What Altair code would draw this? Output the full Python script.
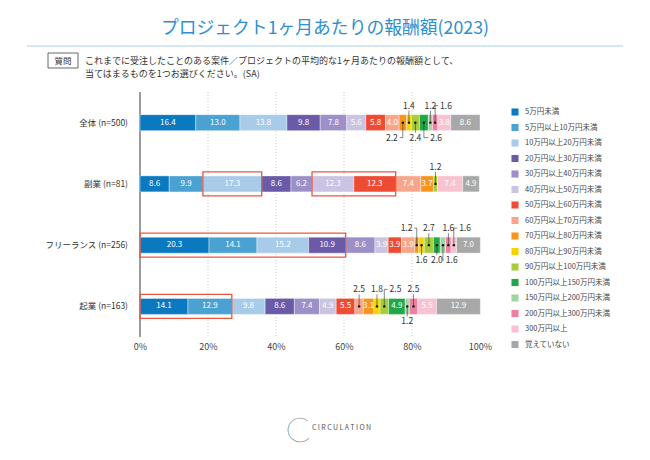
import altair as alt
import pandas as pd

FONT = "Noto Sans CJK JP"

categories = ["5万円未満", "5万円以上10万円未満", "10万円以上20万円未満", "20万円以上30万円未満",
              "30万円以上40万円未満", "40万円以上50万円未満", "50万円以上60万円未満", "60万円以上70万円未満",
              "70万円以上80万円未満", "80万円以上90万円未満", "90万円以上100万円未満", "100万円以上150万円未満",
              "150万円以上200万円未満", "200万円以上300万円未満", "300万円以上", "覚えていない"]
colors = ["#0b79bf", "#4aa2d3", "#a7cbe8", "#6a5aa8", "#9d8fc7", "#cac4e2", "#ee4b33", "#f7a68b",
          "#f7941d", "#f6d200", "#a8cd3a", "#22a748", "#a0d4a0", "#ef7fa1", "#f9c2d1", "#a8a8a8"]

groups = ["全体 (n=500)", "副業 (n=81)", "フリーランス (n=256)", "起業 (n=163)"]
values_all = [16.4, 13.0, 13.8, 9.8, 7.8, 5.6, 5.8, 4.0, 2.2, 1.4, 2.4, 2.6, 1.2, 1.6, 3.8, 8.6]
values_side = [8.6, 9.9, 17.3, 8.6, 6.2, 12.3, 12.3, 7.4, 3.7, 0.0, 1.2, 0.0, 0.0, 0.0, 7.4, 4.9]
values_free = [20.3, 14.1, 15.2, 10.9, 8.6, 3.9, 3.9, 3.9, 1.2, 1.6, 2.7, 2.0, 1.6, 1.6, 1.6, 7.0]
values_start = [14.1, 12.9, 9.8, 8.6, 7.4, 4.9, 5.5, 2.5, 3.1, 1.8, 2.5, 4.9, 1.2, 2.5, 5.5, 12.9]
group_values = [values_all, values_side, values_free, values_start]

x_ticks = [0, 20, 40, 60, 80, 100]
grid_ticks = [20, 40, 60, 80]

# outside labels for small segments: (group, category index, direction, x shift in %)
small_labels = [
    (0, 8, "down", -3.2), (0, 9, "up", 0), (0, 10, "down", 0), (0, 11, "down", 3.6),
    (0, 12, "up", 0), (0, 13, "up", 3.2),
    (1, 10, "up", 0),
    (2, 8, "up", -3.0), (2, 9, "down", 0), (2, 10, "up", 0), (2, 11, "down", 0),
    (2, 12, "down", 2.6), (2, 13, "up", 0), (2, 14, "up", 3.3),
    (3, 7, "up", 0), (3, 9, "up", 0), (3, 10, "up", 3.3), (3, 12, "down", 0), (3, 13, "up", 0),
]
# highlighted ranges: (group, first category, last category)
highlights = [(1, 2, 2), (1, 5, 6), (2, 0, 3), (3, 0, 1)]

title_text = "プロジェクト1ヶ月あたりの報酬額(2023)"
question_lines = ["これまでに受注したことのある案件／プロジェクトの平均的な1ヶ月あたりの報酬額として、",
                  "当てはまるものを1つお選びください。(SA)"]

W, H = 340, 245
PXX = W / 100.0
PXY = H / 4.0
HB = 8.0 / PXY
HBOX = 12.0 / PXY

seg_rows, starts = [], {}
for gi, vals in enumerate(group_values):
    cum = 0.0
    yc = gi + 0.5
    for ci, v in enumerate(vals):
        starts[(gi, ci)] = (cum, cum + v)
        if v > 0:
            seg_rows.append(dict(group=groups[gi], cat=categories[ci], order=ci, value=v,
                                 x0=cum, x1=cum + v, mid=cum + v / 2, yc=yc,
                                 y0=yc - HB, y1=yc + HB,
                                 label=(f"{v:.1f}" if v >= 3 else "")))
        cum += v
seg = pd.DataFrame(seg_rows)
inside = seg[seg["label"] != ""]

lead_rows, lab_rows, dot_rows = [], [], []
for gi, ci, d, dx in small_labels:
    a, b = starts[(gi, ci)]
    m = (a + b) / 2
    yc = gi + 0.5
    sgn = -1 if d == "up" else 1
    ly = yc + sgn * (17 if d == "up" else 15) / PXY
    lx = m + dx
    dot_rows.append(dict(mid=m, yc=yc))
    lab_rows.append(dict(lx=lx, ly=ly, label=f"{group_values[gi][ci]:.1f}"))
    if dx == 0:
        lead_rows.append(dict(a=m, b=m, c=yc, d=yc + sgn * (12 if d == "up" else 10) / PXY))
    else:
        lead_rows.append(dict(a=m, b=m, c=yc, d=ly))
        edge = lx - (2.3 if dx > 0 else -2.3)
        lead_rows.append(dict(a=m, b=edge, c=ly, d=ly))
leads = pd.DataFrame(lead_rows)
labs = pd.DataFrame(lab_rows)
dots = pd.DataFrame(dot_rows)

box_rows = []
for gi, c0, c1 in highlights:
    box_rows.append(dict(bx0=starts[(gi, c0)][0], bx1=starts[(gi, c1)][1],
                         by0=gi + 0.5 - HBOX, by1=gi + 0.5 + HBOX))
boxes = pd.DataFrame(box_rows)

rowlab = pd.DataFrame(dict(group=groups, yc=[i + 0.5 for i in range(len(groups))]))
griddf = pd.DataFrame(dict(g=grid_ticks))
one = pd.DataFrame(dict(k=[0]))

xs = alt.Scale(domain=[0, 100], nice=False, zero=False)
ys = alt.Scale(domain=[0, 4], reverse=True, nice=False, zero=False)
xaxis = alt.Axis(values=x_ticks, labelExpr="datum.value + '%'", domain=False, ticks=False,
                 grid=False, labelPadding=5, labelFontSize=9, labelColor="#444",
                 labelFont=FONT, title=None, labelFlush=False)


def X(f):
    return alt.X(f, type="quantitative", scale=xs, axis=xaxis)


def Y(f):
    return alt.Y(f, type="quantitative", scale=ys, axis=None)


grid = alt.Chart(griddf).mark_rule(color="#bdbdbd", strokeDash=[1, 2], strokeWidth=0.8).encode(
    x=X("g"), y=alt.value(0), y2=alt.value(H))

axisline = alt.Chart(one).mark_rule(color="#7a7a7a", strokeWidth=1.5).encode(
    x=alt.value(0), y=alt.value(0), y2=alt.value(H))

bars = alt.Chart(seg).mark_bar(stroke="white", strokeWidth=0.4).encode(
    x=X("x0"), x2="x1", y=Y("y0"), y2="y1",
    color=alt.Color("cat:N", sort=categories,
                    scale=alt.Scale(domain=categories, range=colors),
                    legend=alt.Legend(title=None, orient="none", legendX=371, legendY=16,
                                      symbolType="square", symbolSize=50, symbolStrokeWidth=0,
                                      labelFontSize=7.5, labelColor="#444", labelFont=FONT,
                                      rowPadding=7.5, labelOffset=6, labelLimit=220,
                                      direction="vertical")),
    order=alt.Order("order:Q"))

intext = alt.Chart(inside).mark_text(color="white", fontSize=8, font=FONT).encode(
    x=X("mid"), y=Y("yc"), text="label:N")

boxl = alt.Chart(boxes).mark_rect(filled=False, stroke="#e9573f", strokeWidth=1.3).encode(
    x=X("bx0"), x2="bx1", y=Y("by0"), y2="by1")

leadl = alt.Chart(leads).mark_rule(color="#333", strokeWidth=0.6).encode(
    x=X("a"), x2="b", y=Y("c"), y2="d")

dotl = alt.Chart(dots).mark_circle(size=6, color="#111", opacity=1).encode(
    x=X("mid"), y=Y("yc"))

labl = alt.Chart(labs).mark_text(fontSize=8.5, color="#333", font=FONT).encode(
    x=X("lx"), y=Y("ly"), text="label:N")

rowl = alt.Chart(rowlab).mark_text(align="right", fontSize=8.5, color="#333", font=FONT).encode(
    x=alt.value(-12), y=Y("yc"), text="group:N")

titlel = alt.Chart(pd.DataFrame(dict(t=[title_text]))).mark_text(
    fontSize=17.8, color="#2d8fd0", font=FONT, align="center", baseline="middle").encode(
    x=alt.value(185), y=alt.value(-63), text="t:N")

hline = alt.Chart(one).mark_rule(color="#d3e8f4", strokeWidth=2).encode(
    x=alt.value(-113), x2=alt.value(483), y=alt.value(-46))

qbox = alt.Chart(one).mark_rect(filled=False, stroke="#666", strokeWidth=1).encode(
    x=alt.value(-92), x2=alt.value(-62), y=alt.value(-39), y2=alt.value(-24))

qlab = alt.Chart(pd.DataFrame(dict(t=["質問"]))).mark_text(
    fontSize=8.5, color="#333", font=FONT, align="center", baseline="middle").encode(
    x=alt.value(-77), y=alt.value(-31.5), text="t:N")

q1 = alt.Chart(pd.DataFrame(dict(t=[question_lines[0]]))).mark_text(
    fontSize=9, color="#333", font=FONT, align="left", baseline="middle").encode(
    x=alt.value(-55), y=alt.value(-31), text="t:N")
q2 = alt.Chart(pd.DataFrame(dict(t=[question_lines[1]]))).mark_text(
    fontSize=9, color="#333", font=FONT, align="left", baseline="middle").encode(
    x=alt.value(-55), y=alt.value(-18), text="t:N")

logo_arc = alt.Chart(one).mark_arc(theta=2.3, theta2=7.0, innerRadius=11.5, outerRadius=12.3,
                                    color="#9a9a9a").encode(x=alt.value(160), y=alt.value(338))
logo_arc2 = alt.Chart(one).mark_arc(theta=4.2, theta2=5.4, innerRadius=11.5, outerRadius=12.3,
                                     color="#8fc6e8").encode(x=alt.value(160), y=alt.value(338))
logo_txt = alt.Chart(pd.DataFrame(dict(t=["C\u2009I\u2009R\u2009C\u2009U\u2009L\u2009A\u2009T\u2009I\u2009O\u2009N"]))).mark_text(
    fontSize=7, color="#555", font=FONT, align="left", baseline="middle").encode(
    x=alt.value(172), y=alt.value(336), text="t:N")

chart = alt.layer(grid, axisline, bars, intext, boxl, leadl, dotl, labl, rowl,
                  titlel, hline, qbox, qlab, q1, q2, logo_arc, logo_arc2, logo_txt).properties(
    width=W, height=H,
    padding={"left": 132, "top": 84, "right": 162, "bottom": 115},
    autosize=alt.AutoSizeParams(type="none"),
    background="white",
).configure_view(stroke=None)

chart.save("out.html", embed_options={"renderer": "svg", "actions": False})
